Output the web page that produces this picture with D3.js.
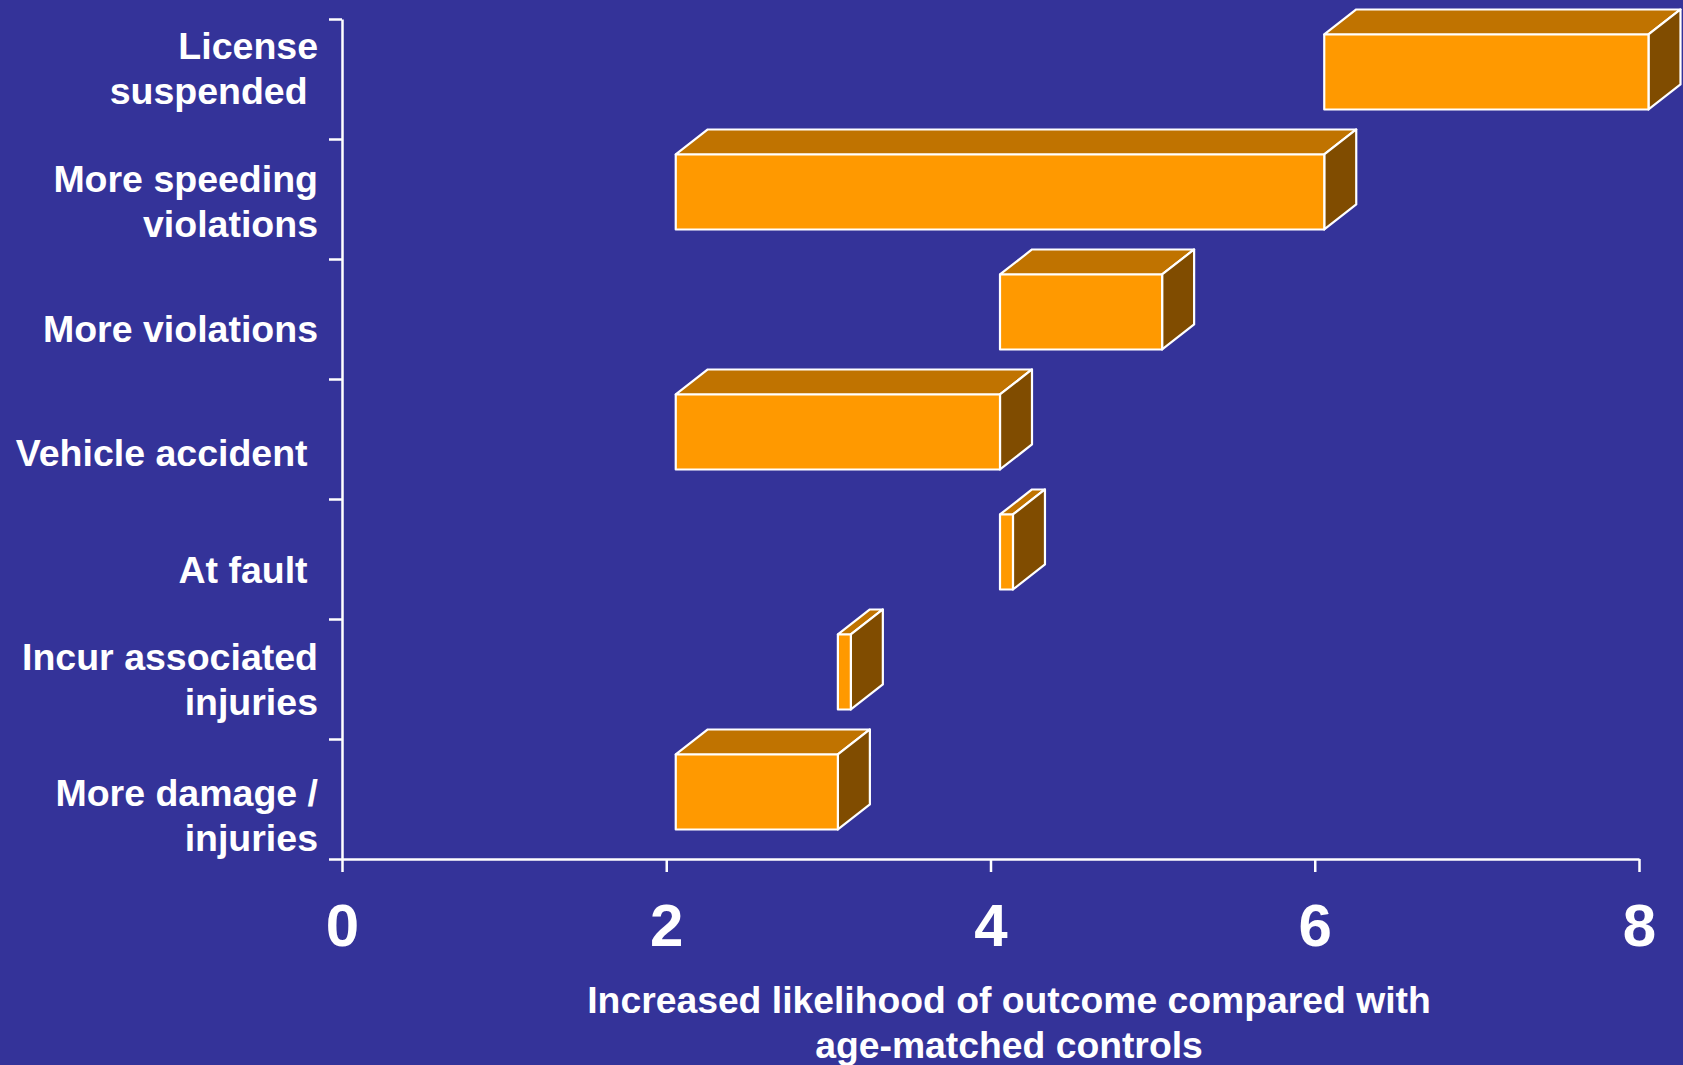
<!DOCTYPE html>
<html>
<head>
<meta charset="utf-8">
<script src="https://cdn.jsdelivr.net/npm/d3@7"></script>
<style>
  html, body { margin: 0; padding: 0; background: #343399; }
  svg { display: block; }
  text { font-family: Arial, "Liberation Sans", sans-serif; font-weight: bold; fill: #ffffff; white-space: pre; }
</style>
</head>
<body>
<svg id="chart" width="1683" height="1065"></svg>
<script>
// ---- data ----
const categories = [
  "License\nsuspended ",
  "More speeding\nviolations",
  "More violations",
  "Vehicle accident ",
  "At fault ",
  "Incur associated\ninjuries",
  "More damage /\ninjuries"
];
const rangeStart = [6, 2, 4, 2, 4, 3, 2];
const rangeEnd   = [8, 6, 5, 4, 4.08, 3.08, 3];
const xTicks = [0, 2, 4, 6, 8];
const xTitle = ["Increased likelihood of outcome compared with", "age-matched controls"];

// ---- layout ----
const W = 1683, H = 1065;
const plot = { left: 342, right: 1639, top: 19, bottom: 859 };
const depth = { dx: 32, dy: -25 };
const frontShift = 9.5;
const labelShift = [-11, 2, 10, 14, 11, 0, 16];
const colors = { front: "#FF9900", top: "#C07300", side: "#804C00", line: "#FFFFFF" };

const svg = d3.select("#chart");
svg.append("rect").attr("width", W).attr("height", H).attr("fill", "#343399");

const x = d3.scaleLinear().domain([0, 8]).range([plot.left, plot.right]);
const y = d3.scaleBand().domain(categories).range([plot.top, plot.bottom]).padding(0);
const yLin = d3.scaleLinear().domain([0, categories.length]).range([plot.bottom, plot.top]);

// y axis (ticks at band boundaries)
const yAxis = svg.append("g")
  .attr("transform", `translate(${plot.left},0)`)
  .call(d3.axisLeft(yLin).tickValues(d3.range(0, categories.length + 1)).tickFormat("").tickSize(13).tickSizeOuter(0));
yAxis.selectAll("path, line").attr("stroke", colors.line).attr("stroke-width", 2.5);

// x axis
const xAxis = svg.append("g")
  .attr("transform", `translate(0,${plot.bottom})`)
  .call(d3.axisBottom(x).tickValues(xTicks).tickFormat(d3.format("d")).tickSize(13).tickSizeOuter(0));
xAxis.selectAll("path, line").attr("stroke", colors.line).attr("stroke-width", 2.5);
xAxis.selectAll("text")
  .attr("fill", "#fff")
  .attr("font-size", 60)
  .attr("font-weight", "bold")
  .attr("font-family", 'Arial, "Liberation Sans", sans-serif')
  .attr("y", 87).attr("dy", 0);

// bars (3D boxes)
const bars = categories.map((c, i) => ({ c, s: rangeStart[i], e: rangeEnd[i] }));
const bandH = y.bandwidth();
const fTop = 0.129 * bandH, fH = 0.625 * bandH;
const g = svg.append("g");
bars.forEach(d => {
  const x0 = x(d.s) + frontShift, x1 = x(d.e) + frontShift;
  const y0 = y(d.c) + fTop, y1 = y0 + fH;
  const bx = depth.dx, by = depth.dy;
  const box = g.append("g").attr("stroke", colors.line).attr("stroke-width", 2.2).attr("stroke-linejoin", "round");
  box.append("path").attr("fill", colors.top)
    .attr("d", `M${x0},${y0}L${x0 + bx},${y0 + by}L${x1 + bx},${y0 + by}L${x1},${y0}Z`);
  box.append("path").attr("fill", colors.side)
    .attr("d", `M${x1},${y0}L${x1 + bx},${y0 + by}L${x1 + bx},${y1 + by}L${x1},${y1}Z`);
  box.append("rect").attr("fill", colors.front)
    .attr("x", x0).attr("y", y0).attr("width", x1 - x0).attr("height", y1 - y0);
});

// category labels
const labelX = 318, lineGap = 45;
categories.forEach((c, i) => {
  const lines = c.split("\n");
  const center = y(c) + bandH / 2;
  const first = lines.length === 1 ? center + 13 + labelShift[i] : center - 9.5 + labelShift[i];
  const t = svg.append("text").attr("text-anchor", "end").attr("font-size", 37.5);
  lines.forEach((ln, k) => {
    t.append("tspan").attr("x", labelX).attr("y", first + k * lineGap).text(ln);
  });
});

// x axis title
const title = svg.append("text").attr("text-anchor", "middle").attr("font-size", 37.3);
xTitle.forEach((ln, k) => {
  title.append("tspan").attr("x", 1009).attr("y", 1013 + k * 45).text(ln);
});
</script>
</body>
</html>
